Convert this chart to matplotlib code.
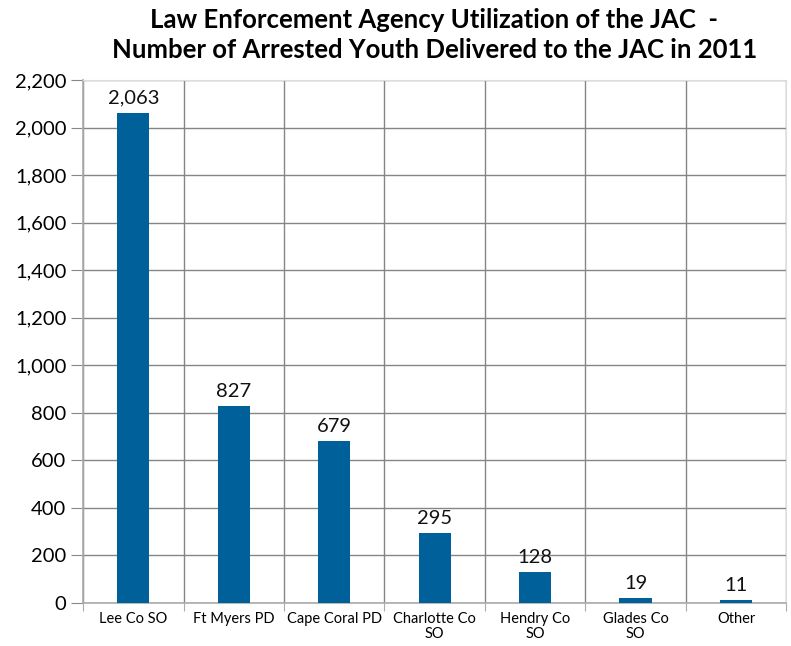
import numpy as np
import matplotlib
matplotlib.use("Agg")
import matplotlib.pyplot as plt

plt.rcParams['font.family'] = ['Lato', 'DejaVu Sans']

agencies = ["Lee Co SO", "Ft Myers PD", "Cape Coral PD", "Charlotte Co\nSO",
            "Hendry Co\nSO", "Glades Co\nSO", "Other"]
youth = [2063, 827, 679, 295, 128, 19, 11]
yticks = np.arange(0, 2201, 200)

fig = plt.figure(figsize=(7.91, 6.46), dpi=100)
ax = fig.add_axes([0.105, 0.067, 0.889, 0.809])

x = np.arange(len(agencies))
ax.bar(x, youth, width=0.32, color='#00609a', zorder=3)
for xi, v in zip(x, youth):
    ax.text(xi, v + 25, "{:,}".format(v), ha='center', va='bottom', fontsize=14.5, color='#111111')

ax.set_xlim(-0.5, len(agencies) - 0.5)
ax.set_ylim(0, 2200)
ax.set_yticks(yticks)
ax.set_yticklabels(["{:,}".format(t) for t in yticks], fontsize=14.5)

# category boundaries as vertical grid
ax.set_xticks(np.arange(-0.5, len(agencies)), minor=False)
ax.set_xticklabels([])
ax.set_xticks(x, minor=True)
ax.set_xticklabels(agencies, minor=True, fontsize=10.5, linespacing=1.05)
ax.tick_params(axis='x', which='minor', length=0, pad=7)
ax.tick_params(axis='x', which='major', length=6, color='#aaaaaa')
ax.tick_params(axis='y', length=9, color='#888888', pad=3)

ax.grid(True, which='major', color='#858585', lw=1, zorder=0)
for s in ['top', 'right']:
    ax.spines[s].set_color('#dddddd')
for s in ['left', 'bottom']:
    ax.spines[s].set_color('#aaaaaa')
    ax.spines[s].set_linewidth(1.2)

fig.text(0.549, 0.988,
         "Law Enforcement Agency Utilization of the JAC  -\nNumber of Arrested Youth Delivered to the JAC in 2011",
         ha='center', va='top', fontsize=18.5, fontweight='bold', linespacing=1.3)

fig.savefig("out.png", dpi=100)
